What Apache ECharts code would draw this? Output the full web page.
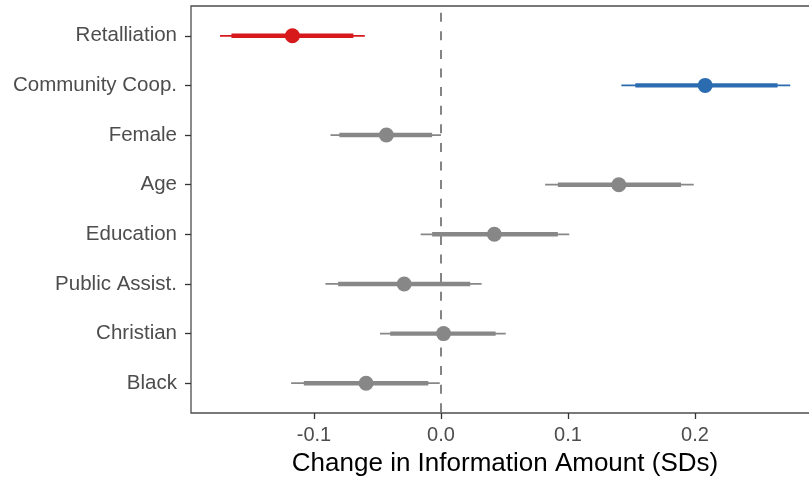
<!DOCTYPE html>
<html>
<head>
<meta charset="utf-8">
<script src="https://cdn.jsdelivr.net/npm/echarts@6/dist/echarts.min.js"></script>
<style>
  html, body { margin: 0; padding: 0; background: #fff; }
  #chart { width: 809px; height: 478px; }
</style>
</head>
<body>
<div id="chart"></div>
<script>
// Coefficient estimates with 90% (thick) and 95% (thin) intervals
const terms    = ['Retalliation', 'Community Coop.', 'Female', 'Age', 'Education', 'Public Assist.', 'Christian', 'Black'];
const estimate = [-0.117, 0.208, -0.043, 0.140, 0.042, -0.029, 0.002, -0.059];
const lo95     = [-0.174, 0.142, -0.087, 0.082, -0.016, -0.091, -0.048, -0.118];
const hi95     = [-0.060, 0.275,  0.000, 0.199,  0.101,  0.032,  0.051, -0.001];
const lo90     = [-0.165, 0.153, -0.080, 0.092, -0.007, -0.081, -0.040, -0.108];
const hi90     = [-0.069, 0.265, -0.007, 0.189,  0.092,  0.023,  0.043, -0.010];
const group    = ['neg', 'pos', 'other', 'other', 'other', 'other', 'other', 'other'];
const xTicks   = [-0.1, 0.0, 0.1, 0.2];

const palette = { neg: '#d7191c', pos: '#2b6cb0', other: '#878787' };
const rowIdx = terms.map((_, i) => i);

const data = terms.map((t, i) => [i, lo95[i], hi95[i], lo90[i], hi90[i], estimate[i], group[i]]);

const chart = echarts.init(document.getElementById('chart'), null, { renderer: 'canvas' });

const FONT = 'Liberation Sans, Arial, Helvetica, sans-serif';
const xMin = -0.19685;
const gridLeft = 191, gridWidth = 628;
const xMax = xMin + gridWidth / 1270;

chart.setOption({
  animation: false,
  backgroundColor: '#fff',
  grid: {
    left: gridLeft, top: 6, width: gridWidth, height: 407,
    outerBoundsMode: 'none', containLabel: false,
    show: true, borderColor: '#4d4d4d', borderWidth: 1.3, backgroundColor: 'transparent'
  },
  xAxis: {
    type: 'value', min: xMin, max: xMax,
    axisLine: { show: false, onZero: false },
    splitLine: { show: false },
    axisTick: { show: true, customValues: xTicks, length: 6, lineStyle: { color: '#333', width: 1.3 } },
    axisLabel: {
      customValues: xTicks, margin: 12, color: '#4d4d4d', fontSize: 20, fontFamily: FONT,
      formatter: v => v.toFixed(1)
    },
    name: 'Change in Information Amount (SDs)',
    nameLocation: 'middle', nameGap: 38,
    nameTextStyle: { color: '#000', fontSize: 26, fontFamily: FONT }
  },
  yAxis: {
    type: 'value', inverse: true, min: -0.6, max: terms.length - 1 + 0.6,
    axisLine: { show: false, onZero: false },
    splitLine: { show: false },
    axisTick: { show: true, customValues: rowIdx, length: 6, lineStyle: { color: '#333', width: 1.3 } },
    axisLabel: {
      customValues: rowIdx, margin: 14, color: '#4d4d4d', fontSize: 20.5, fontFamily: FONT,
      formatter: v => terms[Math.round(v)]
    }
  },
  series: [
    {
      // reference line at zero
      type: 'line', symbol: 'none', silent: true, z: 1,
      data: [[0, -0.6], [0, terms.length - 1 + 0.6]],
      lineStyle: { color: '#666', width: 1.6, type: [9, 9.6], dashOffset: 11.9 }
    },
    {
      type: 'custom', z: 2,
      encode: { x: [1, 2, 3, 4, 5], y: 0 },
      data: data,
      renderItem: function (params, api) {
        const y = api.value(0);
        const col = palette[data[params.dataIndex][6]];
        const a95 = api.coord([api.value(1), y]);
        const b95 = api.coord([api.value(2), y]);
        const a90 = api.coord([api.value(3), y]);
        const b90 = api.coord([api.value(4), y]);
        const c = api.coord([api.value(5), y]);
        return {
          type: 'group',
          children: [
            { type: 'line', shape: { x1: a95[0], y1: a95[1], x2: b95[0], y2: b95[1] },
              style: { stroke: col, lineWidth: 1.8 } },
            { type: 'line', shape: { x1: a90[0], y1: a90[1], x2: b90[0], y2: b90[1] },
              style: { stroke: col, lineWidth: 4.4 } },
            { type: 'circle', shape: { cx: c[0], cy: c[1], r: 7.5 },
              style: { fill: col } }
          ]
        };
      }
    }
  ]
});
</script>
</body>
</html>
